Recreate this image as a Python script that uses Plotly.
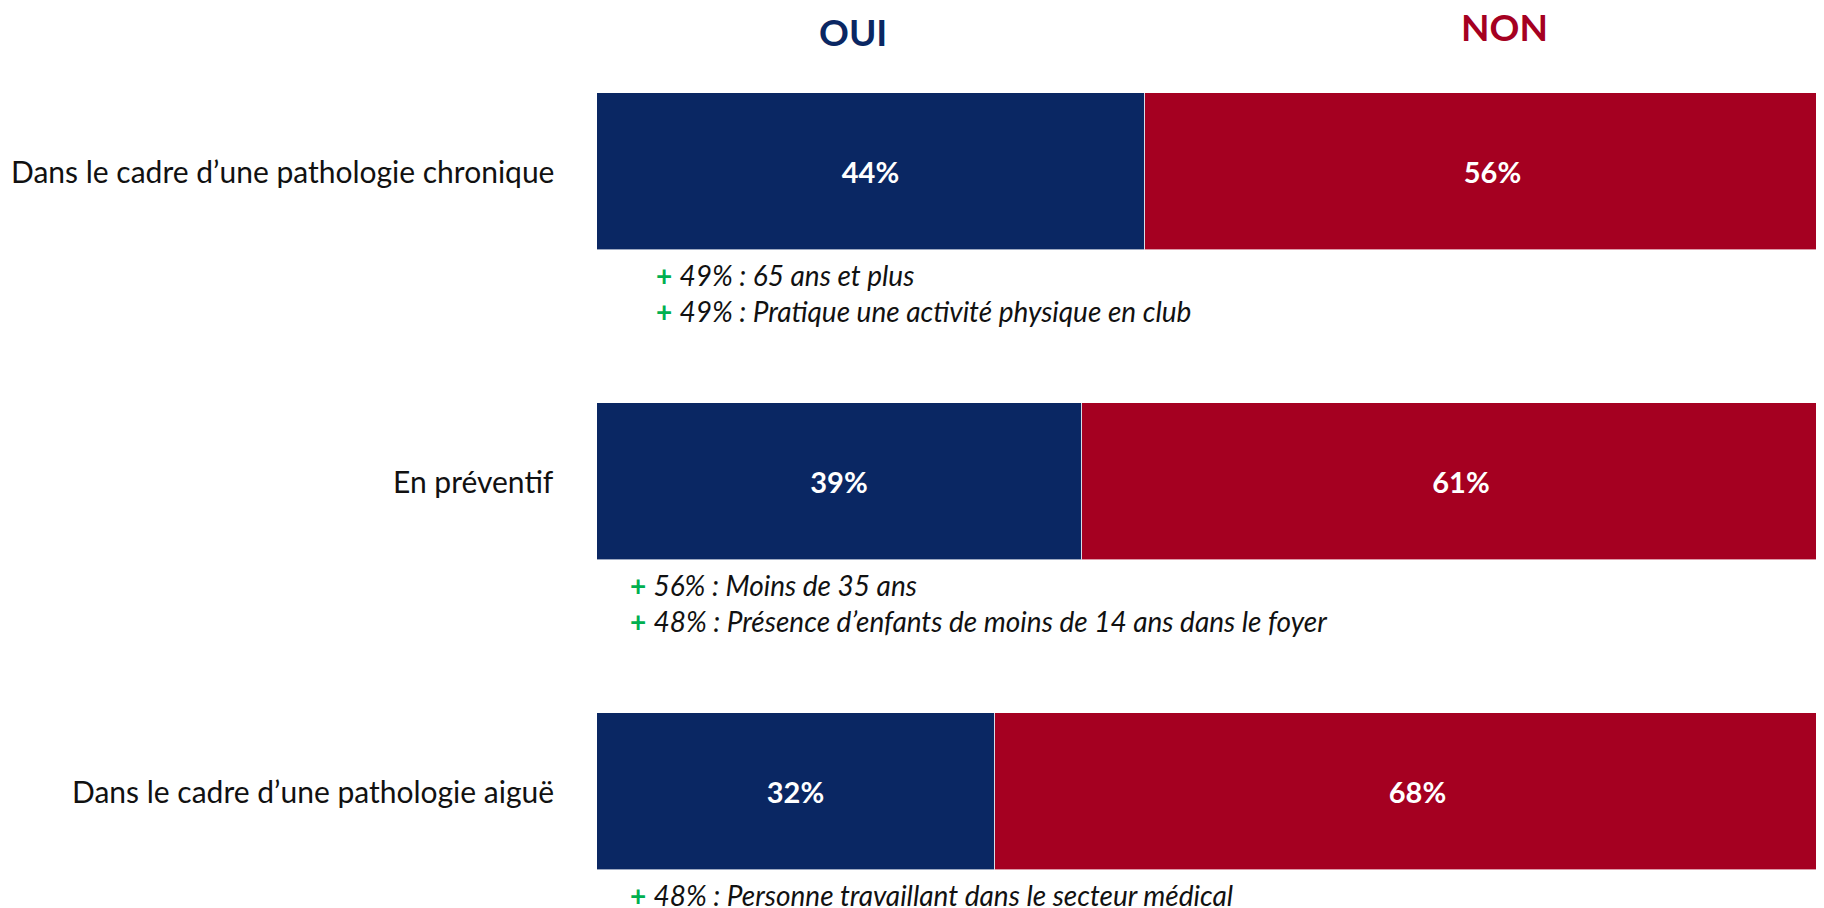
import plotly.graph_objects as go

# ── Data ──────────────────────────────────────────────────────────────────
categories = [
    "Dans le cadre d\u2019une pathologie chronique",
    "En préventif",
    "Dans le cadre d\u2019une pathologie aiguë",
]
oui = [44, 39, 32]
non = [56, 61, 68]
notes = [
    ["49% : 65 ans et plus", "49% : Pratique une activité physique en club"],
    ["56% : Moins de 35 ans", "48% : Présence d\u2019enfants de moins de 14 ans dans le foyer"],
    ["48% : Personne travaillant dans le secteur médical"],
]

NAVY = "#0a2763"
RED = "#a50021"
GREEN = "#00b050"
FONT = "Lato, 'Open Sans', sans-serif"

ypos = list(range(len(categories)))

fig = go.Figure()
fig.add_trace(go.Bar(
    name="OUI", y=ypos, x=oui, orientation="h", width=0.506,
    marker=dict(color=NAVY, line=dict(color="rgba(255,255,255,0.6)", width=1)),
    text=[f"<b>{v}%</b>" for v in oui], textposition="inside",
    insidetextanchor="middle", textfont=dict(color="white", size=29, family=FONT),
))
fig.add_trace(go.Bar(
    name="NON", y=ypos, x=non, orientation="h", width=0.506,
    marker=dict(color=RED, line=dict(color="rgba(255,255,255,0.6)", width=1)),
    text=[f"<b>{v}%</b>" for v in non], textposition="inside",
    insidetextanchor="middle", textfont=dict(color="white", size=29, family=FONT),
))

annotations = []
# category labels, right aligned left of the bars
for i, cat in enumerate(categories):
    annotations.append(dict(
        x=0, y=i, xref="x", yref="y", text=cat, showarrow=False,
        xanchor="right", xshift=-41, font=dict(size=30, color="#111111", family=FONT),
    ))

# notes under each bar
note_indent = [4.6, 2.5, 2.5]
for i, lines in enumerate(notes):
    for j, line in enumerate(lines):
        annotations.append(dict(
            x=note_indent[i], y=i + 0.335 + j * 0.116, xref="x", yref="y",
            text=f"<span style='color:{GREEN}'><b>+</b></span> <i>{line}</i>",
            showarrow=False, xanchor="left", yanchor="middle",
            font=dict(size=28, color="#111111", family=FONT),
        ))

# column headers
annotations.append(dict(x=20.6, y=1 - 23 / 900, xref="x", yref="paper", yanchor="middle",
                        text="<b>OUI</b>", showarrow=False,
                        font=dict(size=37, color=NAVY, family=FONT)))
annotations.append(dict(x=72.9, y=1 - 18 / 900, xref="x", yref="paper", yanchor="middle",
                        text="<b>NON</b>", showarrow=False,
                        font=dict(size=37, color=RED, family=FONT)))

# page has an 8px body margin, so the figure is 1816x900
fig.update_layout(
    barmode="stack",
    width=1816, height=900,
    margin=dict(l=589, r=0, t=0, b=0),
    paper_bgcolor="white", plot_bgcolor="white",
    showlegend=False,
    bargap=0,
    font=dict(family=FONT),
    xaxis=dict(range=[0, 98.6], visible=False, fixedrange=True),
    yaxis=dict(range=[2.376, -0.527], visible=False, fixedrange=True),
    annotations=annotations,
    uniformtext=dict(mode=False),
)

fig.write_html("out.html")
